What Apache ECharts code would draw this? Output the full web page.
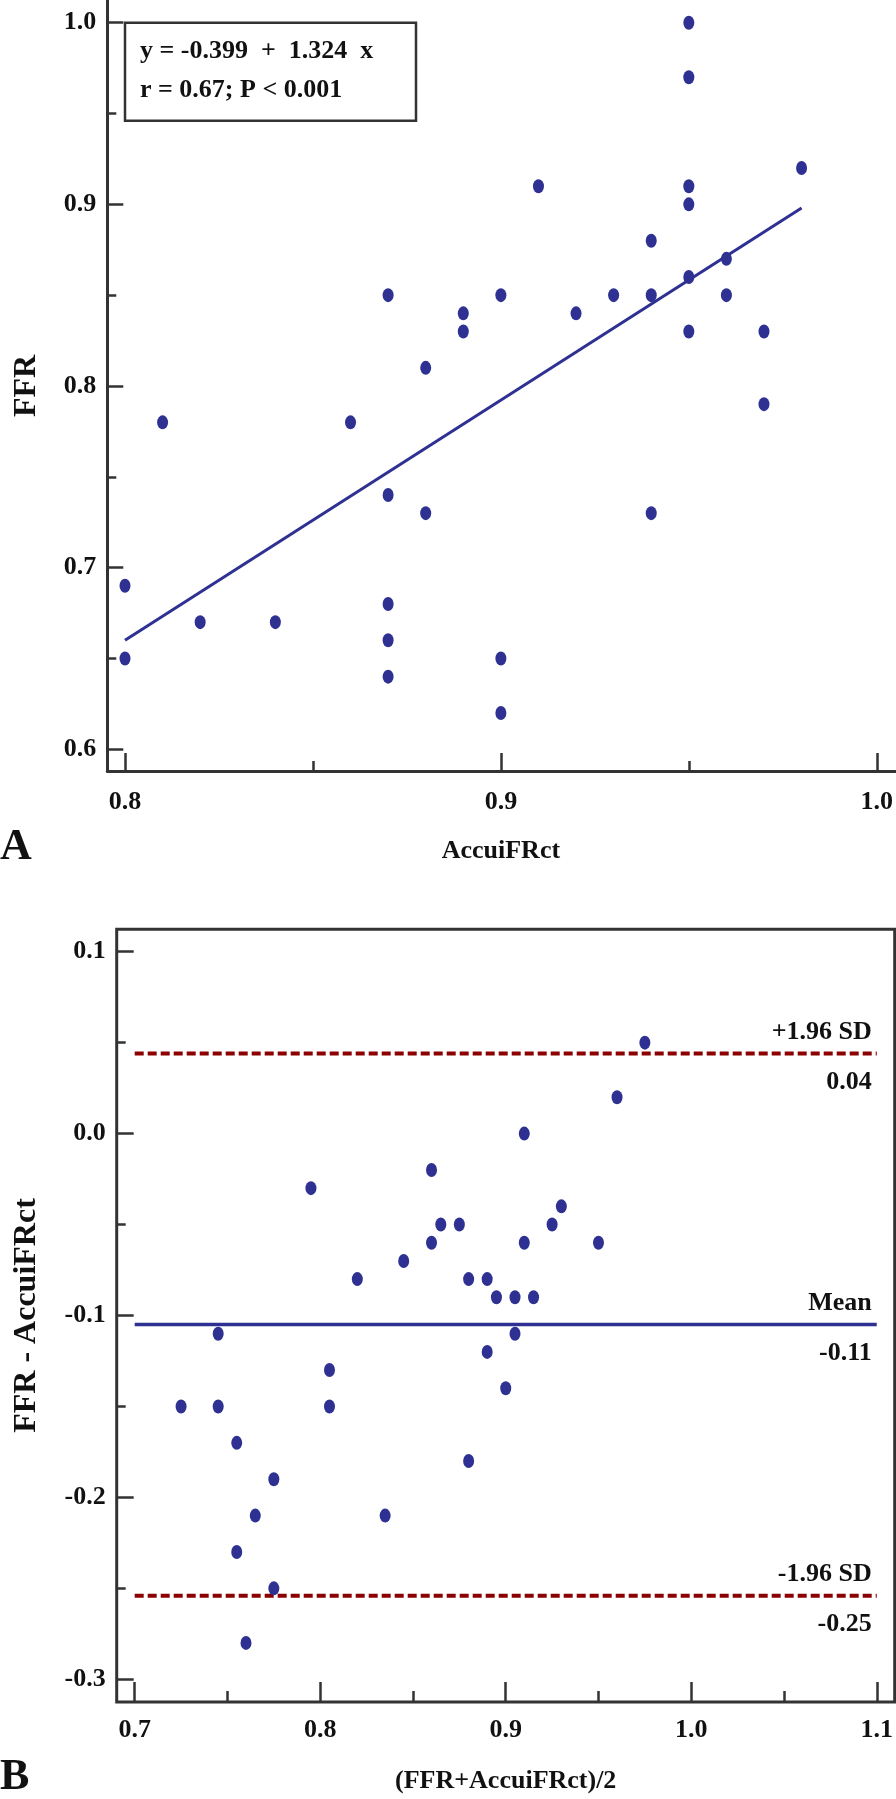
<!DOCTYPE html>
<html><head><meta charset="utf-8">
<script src="https://cdn.jsdelivr.net/npm/echarts@6/dist/echarts.min.js"></script>
<style>html,body{margin:0;padding:0;background:#fff}#c{width:896px;height:1799px}</style>
</head><body><div id="c"></div>
<script>
// ---- Panel A: FFR vs AccuiFRct ----
const accuiFRct = [0.87,0.88,0.81,0.86,0.95,0.95,0.98,0.91,0.95,0.95,0.94,0.96,0.95,0.94,0.90,0.93,0.96,0.89,0.89,0.92,0.95,0.97,0.97,0.87,0.88,0.80,0.82,0.84,0.87,0.87,0.80,0.87,0.94,0.90,0.90];
const ffr       = [0.85,0.81,0.78,0.78,1.00,0.97,0.92,0.91,0.91,0.90,0.88,0.87,0.86,0.85,0.85,0.85,0.85,0.84,0.83,0.84,0.83,0.83,0.79,0.74,0.73,0.69,0.67,0.67,0.68,0.66,0.65,0.64,0.73,0.65,0.62];
const regLineX = [0.80, 0.98];
const regLineY = [0.660, 0.898];
const equationLines = ['y = -0.399  +  1.324  x', 'r = 0.67; P < 0.001'];
const axisA_x = {min:0.8, max:1.0, step:0.1, name:'AccuiFRct'};
const axisA_y = {min:0.6, max:1.0, step:0.1, name:'FFR'};

// ---- Panel B: Bland-Altman ----
const baMean = [0.795,0.86,0.865,0.86,0.845,0.82,0.745,0.975,0.96,0.91,0.93,0.875,0.925,0.91,0.95,0.88,0.89,0.895,0.905,0.915,0.905,0.805,0.725,0.745,0.805,0.755,0.775,0.765,0.835,0.755,0.775,0.76,0.89,0.90,0.88];
const baDiff = [-0.03,-0.02,-0.05,-0.06,-0.07,-0.08,-0.11,0.05,0.02,0.00,-0.04,-0.05,-0.05,-0.06,-0.06,-0.08,-0.08,-0.09,-0.09,-0.09,-0.11,-0.13,-0.15,-0.15,-0.15,-0.17,-0.19,-0.21,-0.21,-0.23,-0.25,-0.28,-0.12,-0.14,-0.18];
const limitValues = [0.044, -0.105, -0.254];
const limitNames  = ['+1.96 SD', 'Mean', '-1.96 SD'];
const limitTexts  = ['0.04', '-0.11', '-0.25'];
const limitSpan   = [0.7, 1.1];
const axisB_x = {min:0.7, max:1.1, step:0.1, name:'(FFR+AccuiFRct)/2'};
const axisB_y = {min:-0.3, max:0.1, step:0.1, name:'FFR - AccuiFRct'};
const panelLabels = ['A', 'B'];

const FONT = 'Liberation Serif';
const AX = '#333333';
const DOT = '#2e3192';
const RED = '#8b0000';
const TXT = '#111111';
const fmt1 = v => (Math.abs(v) < 1e-9 ? 0 : v).toFixed(1);
const lblStyle = {fontFamily: FONT, fontWeight: 'bold', fontSize: 26, color: TXT};

function mainAxis(cfg, grid, offset, isX, tickLen, minorLen, margin, nameGap) {
  return {
    gridIndex: grid, type: 'value', min: cfg.min, max: cfg.max, interval: cfg.step,
    offset: offset,
    axisLine: {show: false, onZero: false},
    axisTick: {show: true, inside: true, length: tickLen, lineStyle: {color: AX, width: 2.5}},
    minorTick: {show: true, splitNumber: 2, length: minorLen, lineStyle: {color: AX, width: 2.5}},
    splitLine: {show: false}, minorSplitLine: {show: false},
    axisLabel: Object.assign({margin: margin, formatter: fmt1}, lblStyle),
    name: cfg.name, nameLocation: 'middle', nameGap: nameGap,
    nameTextStyle: Object.assign({}, lblStyle, isX ? {} : {fontSize: 32})
  };
}
function lineAxis(grid, show) {
  return {gridIndex: grid, type: 'value', min: 0, max: 1, show: show,
    axisLine: {show: true, onZero: false, lineStyle: {color: AX, width: 3}},
    axisTick: {show: false}, axisLabel: {show: false}, splitLine: {show: false}};
}

// limit lines as line series (exact values), labels through markLine on transparent lines
const limitSeries = limitValues.map((v, i) => {
  const isMean = i === 1;
  return {
    type: 'line', xAxisIndex: 2, yAxisIndex: 2,
    data: limitSpan.map(x => [x, v]),
    symbol: 'none', showSymbol: false, silent: true, z: 2,
    lineStyle: isMean ? {color: DOT, width: 3.5, type: 'solid'} : {color: RED, width: 4, type: [9, 4]},
    markLine: {
      silent: true, symbol: ['none', 'none'], precision: 4, animation: false,
      lineStyle: {color: 'rgba(0,0,0,0)', width: 0},
      data: [
        {yAxis: v, label: Object.assign({show: true, formatter: limitNames[i], position: 'insideEndTop', distance: [5, 8]}, lblStyle)},
        {yAxis: v, label: Object.assign({show: true, formatter: limitTexts[i], position: 'insideEndBottom', distance: [5, 16]}, lblStyle)}
      ]
    }
  };
});

const chart = echarts.init(document.getElementById('c'), null, {renderer: 'canvas'});
chart.setOption({
  animation: false,
  backgroundColor: '#ffffff',
  grid: [
    {left: 125, top: 22.7, width: 753, height: 726.6},
    {left: 107.3, top: 0, width: 788.7, height: 771},
    {left: 134.7, top: 951.7, width: 743.3, height: 727.6},
    {left: 116.7, top: 929.3, width: 778, height: 772.7, show: true, borderColor: AX, borderWidth: 3, backgroundColor: 'transparent'}
  ],
  xAxis: [
    mainAxis(axisA_x, 0, 21.7, true, 18, 10, 18, 67),
    lineAxis(1, true),
    mainAxis(axisB_x, 2, 22.7, true, 20, 11, 15, 66),
    lineAxis(3, false)
  ],
  yAxis: [
    mainAxis(axisA_y, 0, 17.7, false, 16, 9, 11, 65),
    lineAxis(1, true),
    mainAxis(axisB_y, 2, 18, false, 17, 9, 11, 74),
    lineAxis(3, false)
  ],
  graphic: [
    {type: 'rect', shape: {x: 125, y: 22.7, width: 291, height: 98}, style: {fill: '#fff', stroke: AX, lineWidth: 2.5}, z: 10},
    {type: 'text', x: 140, y: 51.7, style: {text: equationLines[0], font: 'bold 26px "' + FONT + '"', fill: TXT, verticalAlign: 'middle'}, z: 11},
    {type: 'text', x: 140, y: 90, style: {text: equationLines[1], font: 'bold 26px "' + FONT + '"', fill: TXT, verticalAlign: 'middle'}, z: 11},
    {type: 'text', x: 0, y: 848, style: {text: panelLabels[0], font: 'bold 44px "' + FONT + '"', fill: TXT, verticalAlign: 'middle'}},
    {type: 'text', x: 0, y: 1778, style: {text: panelLabels[1], font: 'bold 44px "' + FONT + '"', fill: TXT, verticalAlign: 'middle'}}
  ],
  series: [
    {type: 'line', xAxisIndex: 0, yAxisIndex: 0, data: regLineX.map((x, i) => [x, regLineY[i]]),
      showSymbol: false, symbol: 'none', lineStyle: {color: DOT, width: 3}, silent: true, z: 2},
    {type: 'scatter', xAxisIndex: 0, yAxisIndex: 0, data: accuiFRct.map((x, i) => [x, ffr[i]]),
      symbol: 'circle', symbolSize: [11, 14], itemStyle: {color: DOT, opacity: 1}, clip: false, z: 3},
    {type: 'scatter', xAxisIndex: 2, yAxisIndex: 2, data: baMean.map((x, i) => [x, baDiff[i]]),
      symbol: 'circle', symbolSize: [11, 14], itemStyle: {color: DOT, opacity: 1}, clip: false, z: 3}
  ].concat(limitSeries)
});
</script></body></html>
